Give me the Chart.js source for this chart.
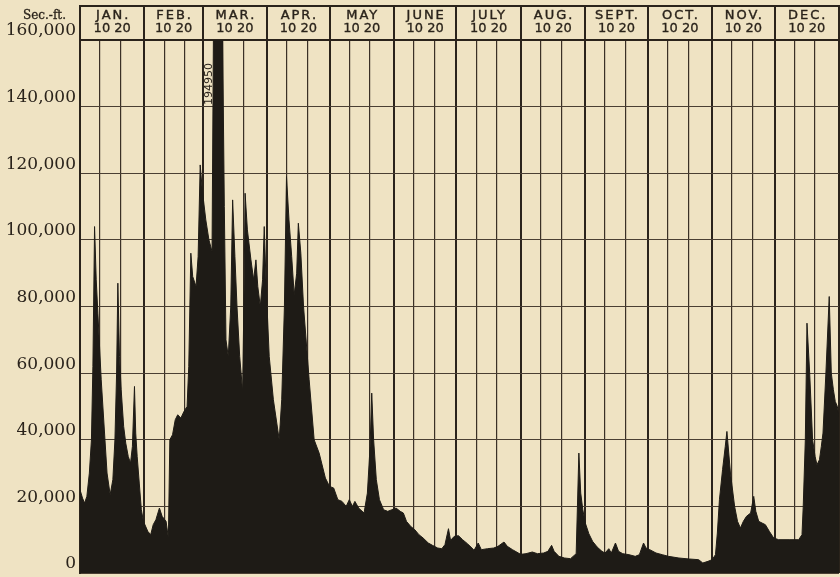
<!DOCTYPE html>
<html>
<head>
<meta charset="utf-8">
<script src="https://cdn.jsdelivr.net/npm/chart.js@4/dist/chart.umd.min.js"></script>
<style>
  html, body { margin: 0; padding: 0; background: #EFE3C3; }
  #wrap { width: 840px; height: 577px; }
</style>
</head>
<body>
<div id="wrap"><canvas id="c" width="840" height="577"></canvas></div>
<script>
// Daily discharge hydrograph, one calendar year (day 0 = 1 January).
const months = ['JAN.', 'FEB.', 'MAR.', 'APR.', 'MAY', 'JUNE', 'JULY', 'AUG.', 'SEPT.', 'OCT.', 'NOV.', 'DEC.'];
const monthStart = [0, 31, 59, 90, 120, 151, 181, 212, 243, 273, 304, 334, 365];
const dayMarks = ['10', '20'];
const yTicks = [0, 20000, 40000, 60000, 80000, 100000, 120000, 140000, 160000];
const unitLabel = 'Sec.-ft.';

// Discharge vertices: day of year and flow in second-feet.
const day = [
  0, 1.2, 2.2, 3.3, 4.5, 5.5, 6.2, 7.0, 7.8, 8.6, 10.2, 12.0, 13.0, 14.5, 15.8, 16.8, 17.6, 18.2, 19.0, 19.8,
  21.0, 22.0, 23.2, 24.3, 25.2, 26.2, 26.8, 27.5, 28.5, 29.5, 30.5, 32.6, 34.0, 35.2, 36.5, 38.2, 39.5, 41.4, 42.5, 43.2,
  44.5, 45.8, 47.0, 48.5, 50.0, 51.5, 52.3, 53.3, 54.2, 55.8, 56.8, 57.8, 58.8, 60.5, 62.0, 63.5, 64.2, 65.3, 66.3, 67.3,
  68.5, 69.4, 70.2, 71.3, 72.5, 73.4, 74.5, 75.5, 76.8, 78.2, 78.9, 79.4, 80.5, 82.2, 83.5, 84.6, 85.5, 86.7, 87.8, 88.6,
  89.6, 91.0, 93.0, 95.8, 97.0, 98.3, 99.3, 100.5, 101.8, 103.0, 104.2, 105.0, 106.2, 107.5, 110.2, 112.6, 115.0, 118.0, 120.0, 122.0,
  124.0, 126.0, 128.0, 129.5, 131.0, 132.2, 134.0, 136.6, 138.2, 139.5, 140.3, 141.2, 142.5, 144.0, 146.0, 148.0, 150.0, 152.0, 154.0, 155.5,
  157.0, 159.0, 161.0, 163.0, 165.0, 167.5, 169.5, 172.0, 174.0, 175.5, 177.2, 178.2, 180.0, 182.0, 184.0, 186.3, 188.5, 189.5, 191.5, 193.0,
  196.0, 199.0, 201.0, 203.9, 205.5, 208.0, 211.9, 214.5, 217.5, 220.0, 223.0, 225.0, 226.8, 228.0, 230.3, 233.0, 235.9, 238.6, 239.9, 240.8,
  241.8, 243.0, 244.7, 246.5, 248.7, 251.0, 252.5, 254.3, 255.5, 257.5, 259.0, 261.0, 264.0, 267.0, 269.0, 271.0, 272.2, 274.0, 277.0, 280.0,
  283.0, 288.0, 293.0, 297.5, 299.5, 302.0, 304.0, 305.6, 306.5, 307.5, 309.0, 310.3, 311.1, 312.8, 314.8, 316.2, 317.6, 319.0, 320.5, 322.5,
  324.0, 325.0, 326.4, 328.0, 329.6, 331.5, 333.6, 336.0, 341.0, 345.6, 347.2, 347.8, 348.8, 349.6, 350.9, 352.3, 353.5, 354.4, 355.6, 356.5,
  357.3, 358.7, 360.3, 361.3, 362.3, 363.2, 364.2, 365.0
];
const flow = [
  25000, 22500, 21000, 23000, 30000, 40000, 62000, 104000, 88000, 78000, 58000, 40000, 30000, 23500, 28000, 40000, 60000, 87000, 65000, 55000,
  44000, 39000, 35000, 33000, 38000, 56000, 42000, 35000, 27000, 19000, 15500, 12500, 11500, 14500, 16000, 19500, 17000, 15500, 10500, 40000,
  41500, 46000, 47500, 46500, 48500, 50000, 62000, 96000, 89000, 86000, 95000, 122500, 115000, 106000, 100000, 96500, 165000, 185000, 194950, 182000,
  165000, 110000, 70000, 65000, 80000, 112000, 95000, 80000, 65000, 54500, 85000, 114000, 103000, 94000, 88000, 94000, 86000, 80000, 88000, 104000,
  85000, 65000, 52000, 40000, 52000, 80000, 119000, 106000, 95000, 83500, 90000, 105000, 96000, 80000, 58000, 40000, 36000, 28500, 26000, 25500,
  22000, 21500, 20000, 22000, 20000, 21500, 19500, 18000, 24000, 38000, 54000, 40000, 28000, 22000, 19000, 18500, 19000, 19500, 18500, 18000,
  15500, 14000, 13000, 11500, 10500, 9000, 8300, 7500, 7300, 8500, 13300, 9800, 11000, 11200, 10000, 8800, 7500, 6800, 9000, 7000,
  7300, 7500, 8000, 9300, 8000, 7000, 5600, 5800, 6300, 5800, 6000, 6500, 8300, 6500, 5000, 4500, 4300, 5800, 36000, 24000,
  19000, 15000, 11800, 9500, 7800, 6500, 6000, 7300, 6000, 9000, 6500, 5800, 5500, 5000, 5500, 9000, 7500, 7000, 6000, 5500,
  5000, 4500, 4200, 4000, 3000, 3500, 4000, 5500, 12000, 22000, 31000, 38000, 42500, 30000, 20000, 15500, 13500, 15500, 17000, 18000,
  23000, 18500, 15500, 15000, 14500, 12500, 10500, 10000, 10000, 10000, 11500, 20000, 40000, 75000, 60000, 40000, 35000, 32500, 34000, 38000,
  42000, 60000, 83000, 60000, 55000, 51500, 50000, 47000
];

const PAPER = '#EFE3C3';
const INK = '#2a231b';
const FILL = '#1e1b16';

// Vertical rules: month boundaries plus the 10th and 20th day of each month.
const gridDays = [];
const monthRule = new Set();
monthStart.forEach((d, i) => {
  gridDays.push(d); monthRule.add(d);
  if (i < 12) { gridDays.push(d + 9.5); gridDays.push(d + 19.5); }
});

const peakFlow = Math.max(...flow);
const peakDay = day[flow.indexOf(peakFlow)];

// Draws text filled and lightly stroked, for the heavier printed lettering.
function inkText(ctx, text, x, y, w) {
  ctx.fillText(text, x, y);
  ctx.lineWidth = w;
  ctx.strokeText(text, x, y);
}

const headerPlugin = {
  id: 'header',
  afterDraw(chart) {
    const { ctx, chartArea, scales } = chart;
    const xs = scales.x;
    const top = 6, bottom = chartArea.top;
    ctx.save();
    ctx.strokeStyle = INK;
    ctx.lineWidth = 2;
    ctx.beginPath();
    ctx.moveTo(chartArea.left - 1, top);
    ctx.lineTo(chartArea.right + 1, top);
    monthStart.forEach(d => {
      const x = Math.round(xs.getPixelForValue(d));
      ctx.moveTo(x, top);
      ctx.lineTo(x, bottom);
    });
    ctx.stroke();

    // month names and day marks
    ctx.fillStyle = INK;
    ctx.strokeStyle = INK;
    ctx.textAlign = 'center';
    ctx.textBaseline = 'middle';
    for (let i = 0; i < 12; i++) {
      const cx = (xs.getPixelForValue(monthStart[i]) + xs.getPixelForValue(monthStart[i + 1])) / 2;
      ctx.font = '13px "DejaVu Sans"';
      ctx.letterSpacing = '2px';
      inkText(ctx, months[i], cx + 1, 16, 0.4);
      ctx.letterSpacing = '0px';
      inkText(ctx, dayMarks.join(' '), cx, 28.5, 0.3);
    }

    // unit caption
    ctx.font = '12px "DejaVu Serif"';
    ctx.textAlign = 'right';
    inkText(ctx, unitLabel, 66, 16, 0.3);

    // value of the flood crest, written upright beside the clipped column
    const px = xs.getPixelForValue(peakDay) - 9;
    ctx.translate(px, 84);
    ctx.rotate(-Math.PI / 2);
    ctx.font = '11px "DejaVu Sans"';
    ctx.textAlign = 'center';
    ctx.fillText(String(peakFlow), 0, 0);
    ctx.restore();
  }
};

new Chart(document.getElementById('c'), {
  type: 'line',
  data: {
    datasets: [{
      data: day.map((d, i) => ({ x: d, y: flow[i] })),
      fill: 'origin',
      backgroundColor: FILL,
      borderColor: FILL,
      borderWidth: 1,
      pointRadius: 0,
      tension: 0
    }]
  },
  options: {
    responsive: false,
    animation: false,
    devicePixelRatio: 1,
    layout: { padding: { top: 40, right: 1, bottom: 4, left: 0 } },
    plugins: { legend: { display: false }, tooltip: { enabled: false } },
    scales: {
      x: {
        type: 'linear',
        min: 0,
        max: 365,
        afterBuildTicks: s => { s.ticks = gridDays.map(v => ({ value: v })); },
        afterFit: s => { s.height = 0; s.paddingLeft = 0; s.paddingRight = 0; },
        ticks: { display: false },
        border: { display: false },
        grid: {
          drawTicks: false,
          color: c => monthRule.has(c.tick.value) ? INK : '#3a3026',
          lineWidth: c => monthRule.has(c.tick.value) ? 2 : 1.2
        }
      },
      y: {
        type: 'linear',
        min: 0,
        max: 160000,
        afterBuildTicks: s => { s.ticks = yTicks.map(v => ({ value: v })); },
        afterFit: s => { s.width = 80; s.paddingTop = 0; s.paddingBottom = 0; },
        border: { display: true, color: INK, width: 2 },
        grid: {
          drawTicks: false,
          color: c => c.tick.value === 160000 ? INK : '#4a3f33',
          lineWidth: c => c.tick.value === 160000 ? 2 : 1
        },
        ticks: {
          padding: 4,
          labelOffset: -9,
          color: INK,
          font: { family: 'DejaVu Serif', size: 17 },
          callback: v => v.toLocaleString('en-US')
        }
      }
    }
  },
  plugins: [headerPlugin]
});
</script>
</body>
</html>
